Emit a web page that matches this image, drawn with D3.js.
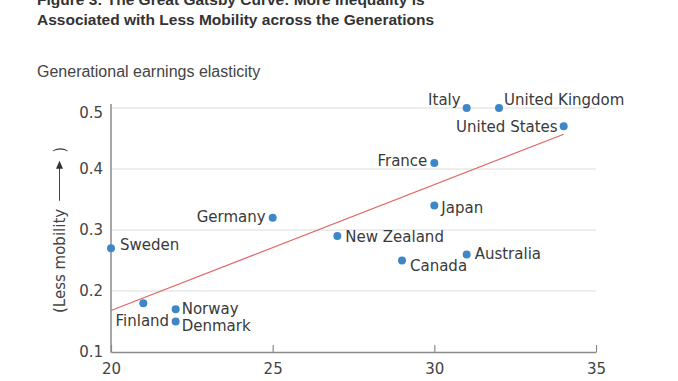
<!DOCTYPE html>
<html><head><meta charset="utf-8">
<script src="https://cdnjs.cloudflare.com/ajax/libs/d3/7.8.5/d3.min.js"></script>
<style>
html,body{margin:0;padding:0;background:#fff;}
svg{display:block;}
</style></head>
<body>
<script>
// ---- data ----
const countries = ["Sweden","Finland","Norway","Denmark","Germany","New Zealand","Canada","Japan","France","Australia","Italy","United Kingdom","United States"];
const inequality = [20,21,22,22,25,27,29,30,30,31,31,32,34];
const elasticity = [0.27,0.18,0.17,0.15,0.32,0.29,0.25,0.34,0.41,0.26,0.50,0.50,0.47];
const trendX = [20,34];
const trendY = [0.168,0.457];
const xTicks = [20,25,30,35];
const yTicks = [0.1,0.2,0.3,0.4,0.5];
const titleLines = ["Figure 3: The Great Gatsby Curve: More Inequality is","Associated with Less Mobility across the Generations"];
const subtitle = "Generational earnings elasticity";
const yLabel = "(Less mobility";

// label placement (anchor, dx, dy of label centre from dot)
const labelPlace = {
  "Sweden":["start",9,-4],"Finland":["middle",-1,17],"Norway":["start",6,-1],"Denmark":["start",6,4],
  "Germany":["end",-7,-1],"New Zealand":["start",8,0],"Canada":["start",8,5],"Japan":["start",7,2],
  "France":["end",-7,-2],"Australia":["start",8,-1],"Italy":["end",-6,-9],"United Kingdom":["start",5,-9],
  "United States":["end",-6,0]
};

const W=678,H=381;
const svg=d3.select("body").append("svg").attr("width",W).attr("height",H);
const x=d3.scaleLinear().domain([20,35]).range([111,596]);
const y=d3.scaleLinear().domain([0.1,0.5]).range([352,108]);

// title
svg.append("g").selectAll("text").data(titleLines).join("text")
  .attr("x",37).attr("y",(d,i)=>4.5+i*20)
  .attr("font-family","Liberation Sans, Arial, sans-serif").attr("font-weight","bold")
  .attr("font-size",15.5).attr("fill","#333").text(d=>d);

svg.append("text").attr("x",37).attr("y",77)
  .attr("font-family","Liberation Sans Narrow, Arial Narrow, Liberation Sans, sans-serif")
  .attr("font-size",16).attr("fill","#444").text(subtitle);

// gridlines
svg.append("g").selectAll("line").data(yTicks.filter(t=>t>0.1)).join("line")
  .attr("x1",x(20)).attr("x2",x(35)).attr("y1",d=>y(d)).attr("y2",d=>y(d))
  .attr("stroke","#dcdcdc").attr("stroke-width",1);

// axes
const fontTick="DejaVu Sans, sans-serif";
const xAxis=svg.append("g").attr("transform",`translate(0,${y(0.1)})`)
  .call(d3.axisBottom(x).tickValues(xTicks).tickFormat(d3.format("d")).tickSizeInner(-7).tickSizeOuter(0).tickPadding(11));
xAxis.select(".domain").attr("stroke","#8a8a8a").attr("stroke-width",1.5);
xAxis.selectAll(".tick line").attr("stroke","#8a8a8a").attr("stroke-width",1.2);
xAxis.selectAll("text").attr("font-family",fontTick).attr("font-size",15).attr("fill","#444");

const yAxis=svg.append("g").attr("transform",`translate(${x(20)},0)`)
  .call(d3.axisLeft(y).tickValues(yTicks).tickFormat(d3.format(".1f")).tickSize(0).tickPadding(8));
yAxis.select(".domain").remove();
yAxis.selectAll("text").attr("font-family",fontTick).attr("font-size",15).attr("fill","#444");
yAxis.selectAll(".tick").filter(d=>d===0.5).select("text").attr("dy","0.62em");
svg.append("line").attr("x1",x(20)).attr("x2",x(20)).attr("y1",y(0.5)-4).attr("y2",y(0.1)+0.75)
  .attr("stroke","#8a8a8a").attr("stroke-width",1.5);

// y label with arrow
const yl=svg.append("g").attr("transform","translate(65,313) rotate(-90)");
const t1=yl.append("text").attr("x",0).attr("y",0).attr("font-family",fontTick).attr("font-size",15)
  .attr("fill","#444").text(yLabel);
const len=t1.node().getComputedTextLength();
const a0=len+8, a1=a0+40;
yl.append("line").attr("x1",a0).attr("x2",a1-5).attr("y1",-5.5).attr("y2",-5.5).attr("stroke","#444").attr("stroke-width",1);
yl.append("path").attr("d",`M${a1},-5.5 L${a1-8},-9 L${a1-8},-2 Z`).attr("fill","#333");
yl.append("text").attr("x",a1+8).attr("y",0).attr("font-family",fontTick).attr("font-size",15)
  .attr("fill","#444").text(")");

// trend line
svg.append("line").attr("x1",x(trendX[0])).attr("y1",y(trendY[0])).attr("x2",x(trendX[1])).attr("y2",y(trendY[1]))
  .attr("stroke","#e06666").attr("stroke-width",1.2);

// points
const pts=countries.map((c,i)=>({c,x:inequality[i],y:elasticity[i]}));
svg.append("g").selectAll("circle").data(pts).join("circle")
  .attr("cx",d=>x(d.x)).attr("cy",d=>y(d.y)).attr("r",4).attr("fill","#3d87c7");

svg.append("g").selectAll("text").data(pts).join("text")
  .attr("x",d=>x(d.x)+labelPlace[d.c][1]).attr("y",d=>y(d.y)+labelPlace[d.c][2]+5.5)
  .attr("text-anchor",d=>labelPlace[d.c][0])
  .attr("font-family","DejaVu Sans, sans-serif").attr("font-size",15).attr("fill","#3a3a3a")
  .text(d=>d.c);
</script>
</body></html>
